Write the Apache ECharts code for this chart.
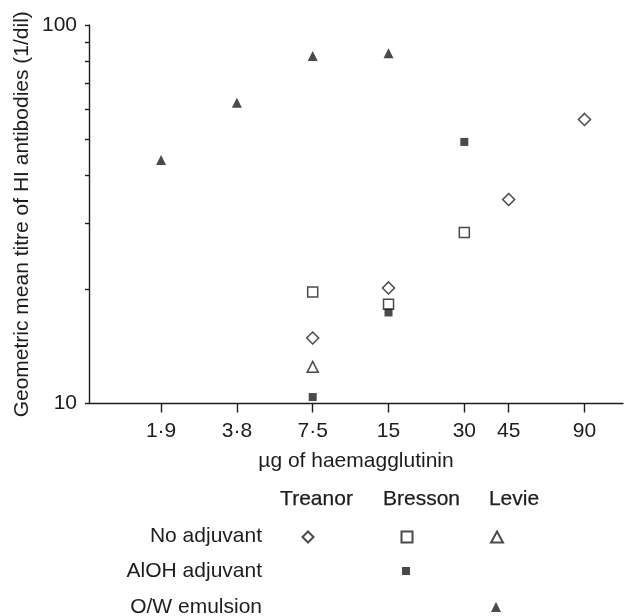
<!DOCTYPE html>
<html>
<head>
<meta charset="utf-8">
<script src="https://cdn.jsdelivr.net/npm/echarts@6/dist/echarts.min.js"></script>
<style>
html, body { margin: 0; padding: 0; background: #fff; }
#chart { width: 627px; height: 616px; }
</style>
</head>
<body>
<div id="chart"></div>
<script>
// dose axis (ug of haemagglutinin), log2 spaced
const xTicks = [1.875, 3.75, 7.5, 15, 30, 45, 90];
const xTickLabels = ['1·9', '3·8', '7·5', '15', '30', '45', '90'];
const yTicks = [10, 20, 30, 40, 50, 60, 70, 80, 90, 100];
const yTickLabels = [10, 100];

// geometric mean titres
const treanorDose = [7.5, 15, 45, 90];
const treanorNoAdj = [14.9, 20.2, 34.6, 56.3];
const bressonDose = [7.5, 15, 30];
const bressonNoAdj = [19.7, 18.3, 28.3];
const bressonAlOH = [10.4, 17.4, 49.1];
const levieDoseNoAdj = [7.5];
const levieNoAdj = [12.5];
const levieDoseOW = [1.875, 3.75, 7.5, 15];
const levieOW = [44.0, 62.3, 82.8, 84.2];

const studies = ['Treanor', 'Bresson', 'Levie'];
const adjuvants = ['No adjuvant', 'AlOH adjuvant', 'O/W emulsion'];

const FONT = '"Liberation Sans", Arial, sans-serif';
const INK = '#1e1c1d';

const pair = (xs, ys) => xs.map((x, i) => [x, ys[i]]);

const openStyle = { color: '#fff', borderColor: INK, borderWidth: 1.5 };
const fillStyle = { color: INK, borderColor: INK, borderWidth: 0 };

const series = [
    { name: 'Treanor / No adjuvant', symbol: 'diamond', symbolSize: 12, itemStyle: openStyle, data: pair(treanorDose, treanorNoAdj) },
    { name: 'Bresson / No adjuvant', symbol: 'rect', symbolSize: 10, itemStyle: openStyle, data: pair(bressonDose, bressonNoAdj) },
    { name: 'Bresson / AlOH adjuvant', symbol: 'rect', symbolSize: 8, itemStyle: fillStyle, data: pair(bressonDose, bressonAlOH) },
    { name: 'Levie / No adjuvant', symbol: 'triangle', symbolSize: 11, itemStyle: openStyle, data: pair(levieDoseNoAdj, levieNoAdj) },
    { name: 'Levie / O/W emulsion', symbol: 'triangle', symbolSize: 10, itemStyle: fillStyle, data: pair(levieDoseOW, levieOW) }
].map(s => Object.assign({ type: 'scatter', emphasis: { disabled: true } }, s));

// legend grid: column = study, row = adjuvant
const colX = [307, 406, 496];
const rowY = [536, 571, 607];
const legendCells = [
    [0, 0, 11, 11], [1, 0, 11, 11], [1, 1, 8, 8], [2, 0, 12, 11], [2, 2, 10, 10]
];
const legends = legendCells.map((c, i) => ({
    data: [series[i].name],
    left: colX[c[0]] - c[2] / 2,
    top: rowY[c[1]] - c[3] / 2,
    itemWidth: c[2],
    itemHeight: c[3],
    padding: 0,
    selectedMode: false,
    formatter: () => '',
    textStyle: { fontSize: 1 }
}));

const headerX = [316.5, 421.5, 514];
const graphics = studies.map((s, i) => ({
    type: 'text', x: headerX[i], y: 499,
    style: { text: s, fill: INK, stroke: INK, lineWidth: 0.25, fontSize: 21, fontFamily: FONT, align: 'center', verticalAlign: 'middle' }
})).concat(adjuvants.map((a, i) => ({
    type: 'text', x: 262, y: rowY[i],
    style: { text: a, fill: INK, fontSize: 21, fontFamily: FONT, align: 'right', verticalAlign: 'middle' }
})));

const chart = echarts.init(document.getElementById('chart'));
chart.setOption({
    animation: false,
    backgroundColor: '#fff',
    textStyle: { fontFamily: FONT, color: INK },
    grid: { left: 89, right: 4, top: 25, bottom: 212.5, containLabel: false, outerBoundsMode: 'none' },
    xAxis: {
        type: 'log',
        logBase: 2,
        min: 0.97,
        max: 128,
        name: 'µg of haemagglutinin',
        nameLocation: 'middle',
        nameGap: 47,
        nameMoveOverlap: false,
        nameTextStyle: { fontSize: 21, color: INK },
        axisLine: { lineStyle: { color: INK, width: 1.4 } },
        axisTick: { customValues: xTicks, length: 9, lineStyle: { color: INK, width: 1.4 } },
        axisLabel: {
            customValues: xTicks,
            margin: 17,
            fontSize: 21,
            color: INK,
            formatter: v => {
                let best = 0;
                xTicks.forEach((t, i) => { if (Math.abs(t - v) < Math.abs(xTicks[best] - v)) best = i; });
                return xTickLabels[best];
            }
        },
        splitLine: { show: false }
    },
    yAxis: {
        type: 'log',
        logBase: 10,
        min: 10,
        max: 100,
        name: 'Geometric mean titre of HI antibodies (1/dil)',
        nameLocation: 'middle',
        nameGap: 56,
        nameMoveOverlap: false,
        nameTextStyle: { fontSize: 21, color: INK },
        axisLine: { show: true, lineStyle: { color: INK, width: 1.4 } },
        axisTick: { show: true, customValues: yTicks, length: 4, lineStyle: { color: INK, width: 1.4 } },
        axisLabel: { customValues: yTickLabels, margin: 12, fontSize: 21, color: INK },
        splitLine: { show: false }
    },
    legend: legends,
    graphic: graphics,
    series: series
});
</script>
</body>
</html>
